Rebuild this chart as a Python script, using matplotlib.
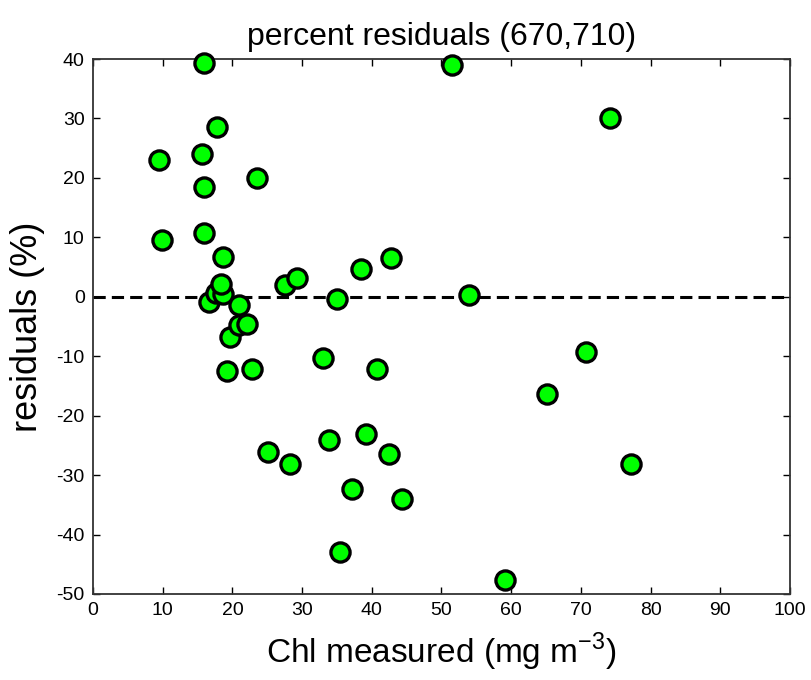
import matplotlib
matplotlib.use("Agg")
import matplotlib.pyplot as plt
from matplotlib import font_manager

names = {f.name for f in font_manager.fontManager.ttflist}
fam = "Liberation Sans Narrow" if "Liberation Sans Narrow" in names else "Liberation Sans"
plt.rcParams['font.family'] = [fam, 'DejaVu Sans']
plt.rcParams['mathtext.fontset'] = 'custom'
plt.rcParams['mathtext.rm'] = fam
plt.rcParams['axes.unicode_minus'] = False

chl_measured = [9.5, 9.9, 15.7, 15.9, 15.9, 15.9, 16.7, 17.7, 17.8, 18.7, 18.4, 18.7,
                19.2, 19.6, 20.9, 20.9, 22.1, 22.8, 23.5, 25.1, 27.5, 28.3, 29.3, 33.0,
                33.9, 35.0, 35.5, 37.1, 38.5, 39.1, 40.8, 42.4, 42.7, 44.3, 51.5, 54.0,
                59.1, 65.2, 70.7, 74.2, 77.2]
residuals = [23.0, 9.5, 24.0, 39.4, 18.4, 10.8, -0.8, 0.6, 28.6, 0.5, 2.2, 6.7,
             -12.5, -6.8, -1.4, -4.8, -4.5, -12.2, 19.9, -26.1, 2.0, -28.2, 3.2, -10.3,
             -24.1, -0.4, -42.9, -32.4, 4.6, -23.0, -12.1, -26.5, 6.6, -34.0, 39.0, 0.3,
             -47.6, -16.4, -9.3, 30.1, -28.2]
x_ticks = [0, 10, 20, 30, 40, 50, 60, 70, 80, 90, 100]
y_ticks = [-50, -40, -30, -20, -10, 0, 10, 20, 30, 40]

fig = plt.figure(figsize=(8.12, 6.8), dpi=100)
ax = fig.add_axes([93/812, 1-594/680, (790-93)/812, (594-59)/680])

ax.axhline(0, color='black', lw=2.2, ls=(0, (4, 2)), zorder=1)
ax.scatter(chl_measured, residuals, s=190, c='#00ff00', edgecolors='black',
           linewidths=2.4, zorder=3, clip_on=False)

ax.set_xlim(0, 100)
ax.set_ylim(-50, 40)
ax.set_xticks(x_ticks)
ax.set_yticks(y_ticks)
ax.tick_params(direction='in', length=5, width=1, top=True, right=True,
               labelsize=14, pad=6)
for s in ax.spines.values():
    s.set_linewidth(1.3)
    s.set_color('#333333')

ax.set_title('percent residuals (670,710)', fontsize=23, pad=10)
ax.set_xlabel('Chl measured (mg m$^{-3}$)', fontsize=24, labelpad=8)
ax.set_ylabel('residuals (%)', fontsize=26, labelpad=8)

fig.savefig('out.png', dpi=100)
